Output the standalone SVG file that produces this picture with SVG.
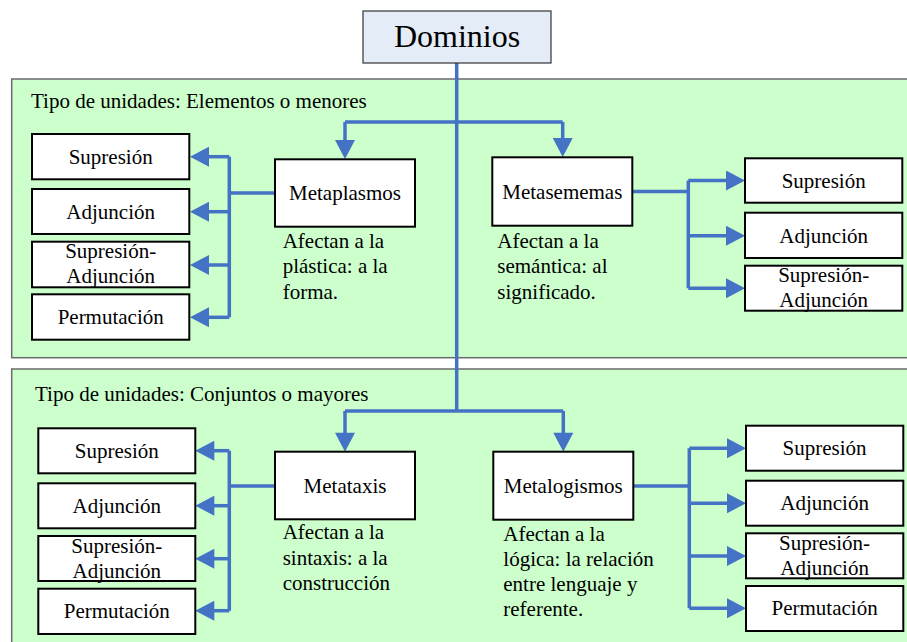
<svg xmlns="http://www.w3.org/2000/svg" width="907" height="642" viewBox="0 0 907 642">
<style>
.panel{fill:#CCFFCC;stroke:#6b6b6b;stroke-width:1.5}
.box{fill:#FFFFFF;stroke:#000;stroke-width:2}
.root{fill:#E4ECF7;stroke:#333;stroke-width:1.2}
.c{text-anchor:middle}
.conn{fill:none;stroke:#4472C4;stroke-width:3.5}
.arr{fill:none;stroke:#4472C4;stroke-width:3.5;marker-end:url(#ah)}
</style>
<defs>
<marker id="ah" markerUnits="userSpaceOnUse" markerWidth="20" markerHeight="20" viewBox="0 0 19 20" refX="9" refY="10" orient="auto">
<path d="M0,0 L19,10 L0,20 z" fill="#4472C4"/>
</marker>
</defs>
<rect width="907" height="642" fill="#fff"/>
<g id="panel-top">
<rect class="panel" x="11.7" y="79" width="900" height="278.7"/>
</g>
<g id="panel-bottom">
<rect class="panel" x="11.7" y="369" width="900" height="290"/>
</g>
<g id="connectors">
<path class="conn" d="M456.7,63 V411"/>
<path class="conn" d="M345,122 H562.7"/>
<path class="arr" d="M345,122 V149"/>
<path class="arr" d="M562.7,122 V147"/>
<path class="conn" d="M275,193 H229.3 M229.3,156.7 V317.3"/>
<path class="arr" d="M229.3,156.7 H200"/>
<path class="arr" d="M229.3,211.7 H200"/>
<path class="arr" d="M229.3,265 H200"/>
<path class="arr" d="M229.3,317.3 H200"/>
<path class="conn" d="M632.3,191.5 H688.3 M688.3,180.5 V288.3"/>
<path class="arr" d="M688.3,180.5 H735"/>
<path class="arr" d="M688.3,235.7 H735"/>
<path class="arr" d="M688.3,288.3 H735"/>
<path class="conn" d="M345,411 H563.3"/>
<path class="arr" d="M345,411 V441.7"/>
<path class="arr" d="M563.3,411 V441.7"/>
<path class="conn" d="M275,486 H229.3 M229.3,450.7 V610.7"/>
<path class="arr" d="M229.3,450.7 H205.3"/>
<path class="arr" d="M229.3,505.7 H205.3"/>
<path class="arr" d="M229.3,558.7 H205.3"/>
<path class="arr" d="M229.3,610.7 H205.3"/>
<path class="conn" d="M633.3,486 H689.3 M689.3,448.3 V608.3"/>
<path class="arr" d="M689.3,448.3 H736"/>
<path class="arr" d="M689.3,503.3 H736"/>
<path class="arr" d="M689.3,556 H736"/>
<path class="arr" d="M689.3,608.3 H736"/>
</g>
<g font-family="Liberation Serif, serif" font-size="21" fill="#000">
<text x="31" y="108">Tipo de unidades: Elementos o menores</text>
<text x="35" y="401">Tipo de unidades: Conjuntos o mayores</text>
<g id="dominios">
<rect class="root" x="363" y="11" width="188" height="52"/>
<text class="c" x="457" y="47" font-size="32">Dominios</text>
</g>
<g id="metaplasmos">
<rect class="box" x="275" y="159.3" width="140" height="67.4"/>
<text class="c" x="345" y="200">Metaplasmos</text>
<text x="282.7" y="247.5">Afectan a la</text>
<text x="282.7" y="273.3">plástica: a la</text>
<text x="282.7" y="298.5">forma.</text>
</g>
<g id="metasememas">
<rect class="box" x="492.3" y="157.3" width="140" height="68.4"/>
<text class="c" x="562.3" y="198.5">Metasememas</text>
<text x="497.3" y="247.5">Afectan a la</text>
<text x="497.3" y="273.3">semántica: al</text>
<text x="497.3" y="298.5">significado.</text>
</g>
<g id="tl-supresion">
<rect class="box" x="32" y="134" width="157.3" height="45.3"/>
<text class="c" x="110.7" y="163.5">Supresión</text>
</g>
<g id="tl-adjuncion">
<rect class="box" x="32" y="189" width="157.3" height="45"/>
<text class="c" x="110.7" y="218.5">Adjunción</text>
</g>
<g id="tl-supresion-adjuncion">
<rect class="box" x="32" y="241.7" width="157.3" height="45.6"/>
<text class="c" x="110.7" y="258.3">Supresión-</text>
<text class="c" x="110.7" y="283.3">Adjunción</text>
</g>
<g id="tl-permutacion">
<rect class="box" x="32" y="294.3" width="157.3" height="45.4"/>
<text class="c" x="110.7" y="324">Permutación</text>
</g>
<g id="tr-supresion">
<rect class="box" x="745" y="158.3" width="157.3" height="44.4"/>
<text class="c" x="823.7" y="188">Supresión</text>
</g>
<g id="tr-adjuncion">
<rect class="box" x="745" y="212.7" width="157.3" height="45.3"/>
<text class="c" x="823.7" y="242.5">Adjunción</text>
</g>
<g id="tr-supresion-adjuncion">
<rect class="box" x="745" y="265.7" width="157.3" height="45"/>
<text class="c" x="823.7" y="282">Supresión-</text>
<text class="c" x="823.7" y="307">Adjunción</text>
</g>
<g id="metataxis">
<rect class="box" x="275" y="451.7" width="140" height="67.6"/>
<text class="c" x="345" y="492.7">Metataxis</text>
<text x="282.7" y="539">Afectan a la</text>
<text x="282.7" y="564.5">sintaxis: a la</text>
<text x="282.7" y="590">construcción</text>
</g>
<g id="metalogismos">
<rect class="box" x="493.3" y="451.7" width="140" height="68"/>
<text class="c" x="563.3" y="492.7">Metalogismos</text>
<text x="503.3" y="540.5">Afectan a la</text>
<text x="503.3" y="565.5">lógica: la relación</text>
<text x="503.3" y="590.5">entre lenguaje y</text>
<text x="503.3" y="615.5">referente.</text>
</g>
<g id="bl-supresion">
<rect class="box" x="38.3" y="428.3" width="157" height="45"/>
<text class="c" x="116.8" y="457.7">Supresión</text>
</g>
<g id="bl-adjuncion">
<rect class="box" x="38.3" y="483.3" width="157" height="45"/>
<text class="c" x="116.8" y="512.7">Adjunción</text>
</g>
<g id="bl-supresion-adjuncion">
<rect class="box" x="38.3" y="536" width="157" height="45"/>
<text class="c" x="116.8" y="552.5">Supresión-</text>
<text class="c" x="116.8" y="577.5">Adjunción</text>
</g>
<g id="bl-permutacion">
<rect class="box" x="38.3" y="588.7" width="157" height="45.3"/>
<text class="c" x="116.8" y="618">Permutación</text>
</g>
<g id="br-supresion">
<rect class="box" x="746" y="425.7" width="157.3" height="45"/>
<text class="c" x="824.6" y="455">Supresión</text>
</g>
<g id="br-adjuncion">
<rect class="box" x="746" y="480.7" width="157.3" height="45"/>
<text class="c" x="824.6" y="510">Adjunción</text>
</g>
<g id="br-supresion-adjuncion">
<rect class="box" x="746" y="533.3" width="157.3" height="45"/>
<text class="c" x="824.6" y="549.5">Supresión-</text>
<text class="c" x="824.6" y="574.5">Adjunción</text>
</g>
<g id="br-permutacion">
<rect class="box" x="746" y="586" width="157.3" height="45"/>
<text class="c" x="824.6" y="615">Permutación</text>
</g>
</g>
</svg>
